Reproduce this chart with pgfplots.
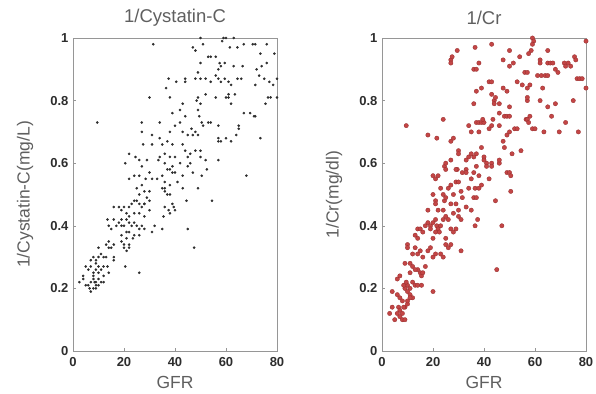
\documentclass[border=0pt]{standalone}
\usepackage{fontspec}
\setmainfont{Liberation Sans}
\usepackage{pgfplots}
\pgfplotsset{compat=1.18}
\definecolor{txt}{RGB}{95,95,95}
\definecolor{tick}{RGB}{45,45,45}
\definecolor{frame}{RGB}{150,150,150}
\definecolor{dotk}{RGB}{45,45,45}
\definecolor{dotr}{RGB}{195,70,70}
\definecolor{dotrd}{RGB}{150,45,45}
\pgfplotsset{
  myax/.style={
    scale only axis, width=204pt, height=313pt,
    xmin=0, xmax=80, ymin=0, ymax=1,
    xtick={0,20,40,60,80}, ytick={0,0.2,0.4,0.6,0.8,1},
    yticklabels={0,0.2,0.4,0.6,0.8,1},
    tick pos=left, tick align=inside, major tick length=3pt,
    tick style={frame, line width=0.5pt},
    axis line style={frame, line width=0.7pt},
    /pgf/number format/assume math mode=true,
    ticklabel style={font=\fontsize{13}{15}\selectfont\bfseries, text=tick},
    xticklabel style={yshift=-3pt},
    yticklabel style={xshift=-1pt},
    every axis x label/.style={at={(axis description cs:0.5,-0.099)}, anchor=center, font=\fontsize{17.5}{20}\selectfont, text=txt},
    every axis y label/.style={at={(axis description cs:-0.235,0.5)}, anchor=center, rotate=90, font=\fontsize{17.5}{20}\selectfont, text=txt},
    every axis title/.style={at={(axis description cs:0.5,1.064)}, anchor=center, font=\fontsize{18.5}{21}\selectfont, text=txt},
    clip=false,
  }
}
\begin{document}
\begin{tikzpicture}
\useasboundingbox (0,0) rectangle (596pt,393pt);
\begin{axis}[myax, at={(73pt,42pt)}, anchor=south west,
  title={1/Cystatin-C}, xlabel={GFR}, ylabel={1/Cystatin-C(mg/L)}]
\addplot[only marks, mark=*, mark size=1.1pt, mark options={fill=dotk, draw=dotk}] coordinates {
(31.5,0.98)(50,1.0)(51,0.98)(58.5,0.99)(59,1.0)(60,1.0)(63,1.0)(61.5,0.97)(64.5,0.97)(67,0.98)(70.5,0.98)(71.5,0.98)(76,0.98)(47,0.97)(48,0.96)
(53,0.94)(54,0.94)(56,0.94)(57.5,0.92)(58,0.91)(59.5,0.92)(50,0.92)(73.5,0.95)(76,0.92)(79,0.95)(72,0.90)(74,0.91)(63,0.91)(66.5,0.91)(57,0.90)
(49,0.89)(50,0.87)(52,0.87)(56,0.88)(57,0.87)(58,0.86)(59.5,0.87)(61,0.86)(62,0.85)(64.5,0.87)(66,0.87)(71.5,0.85)(73,0.88)(75,0.87)(77,0.86)(78.5,0.85)(80,0.87)(44,0.87)(44,0.86)(48,0.87)(40.5,0.86)(36.5,0.84)(37.5,0.87)(54,0.86)
(30,0.81)(38,0.81)(49,0.81)(50,0.79)(52,0.82)(56,0.81)(60,0.81)(61,0.82)(62,0.79)(63.5,0.82)(75.5,0.79)(76.5,0.81)(77.5,0.81)(80,0.81)(43,0.79)(48.5,0.80)(61,0.81)
(9.5,0.73)(39,0.76)(42,0.77)(44,0.75)(49,0.77)(49.5,0.75)(50.5,0.73)(51,0.72)(53,0.73)(54,0.73)(57,0.72)(65,0.72)(65,0.71)(67,0.76)(69.5,0.76)(71,0.75)(71.5,0.75)(40,0.72)(42,0.73)(34,0.73)(27,0.73)(46.5,0.71)(48,0.70)
(27,0.70)(31,0.69)(34,0.68)(37,0.67)(38,0.70)(43,0.70)(45,0.69)(47,0.69)(49,0.69)(57,0.68)(58,0.67)(57,0.67)(60,0.68)(62,0.67)(64,0.69)(73.5,0.68)(27.5,0.66)(31,0.66)(35,0.66)(39,0.66)(43,0.66)
(34,0.62)(36,0.63)(38,0.62)(40,0.62)(44,0.64)(45,0.62)(46,0.63)(48,0.64)(50,0.64)(50,0.62)(52,0.61)(57,0.61)(22,0.63)(24.5,0.62)(20.5,0.60)(26,0.61)(29,0.61)(33.5,0.61)(46,0.60)(52.5,0.58)(42,0.60)
(27,0.59)(28.5,0.55)(26,0.56)(30,0.57)(31,0.55)(33,0.55)(35,0.56)(36,0.54)(37,0.58)(38,0.58)(39,0.57)(40,0.57)(41,0.54)(43,0.56)(45,0.59)(47,0.57)(50.5,0.56)(22,0.55)(24,0.56)(68,0.56)(36,0.60)(39,0.59)
(25,0.52)(27,0.53)(26,0.50)(28,0.51)(29,0.49)(30,0.51)(30,0.48)(35,0.52)(36,0.52)(38,0.53)(43,0.52)(38,0.50)(49,0.52)(44.5,0.48)(54.5,0.48)(37,0.50)(36,0.51)(28,0.47)
(16,0.46)(18,0.46)(19,0.45)(20,0.46)(21,0.44)(22,0.46)(23,0.47)(24,0.48)(25,0.48)(26,0.47)(27,0.46)(28,0.47)(22,0.43)(24,0.44)(26,0.44)(28,0.43)(30,0.45)(36,0.46)(37.5,0.45)(38,0.44)(39,0.47)(35.5,0.43)(16,0.42)(19,0.42)(21,0.42)(13.5,0.42)(40,0.45)(39.5,0.46)
(14,0.40)(15,0.39)(17,0.40)(18,0.41)(19,0.40)(20,0.40)(22,0.41)(23,0.40)(24,0.41)(25,0.40)(26,0.39)(22,0.38)(24,0.37)(23.5,0.36)(19,0.37)(28,0.39)(27,0.40)(31,0.38)(32,0.40)(35,0.39)(45,0.39)(26,0.37)(21,0.38)
(13,0.34)(14,0.35)(15,0.33)(16,0.34)(14,0.33)(16,0.30)(19,0.35)(20,0.34)(20,0.33)(21,0.32)(22,0.33)(21,0.36)(10,0.33)(47.5,0.33)(12,0.30)(11,0.31)(10,0.30)(9,0.29)(8,0.30)(13,0.30)(22,0.34)
(7,0.29)(7,0.27)(9,0.28)(5,0.27)(6,0.26)(8,0.25)(9,0.26)(10,0.25)(11,0.26)(12,0.27)(13.5,0.27)(16,0.29)(10,0.27)(14,0.25)(12,0.24)(26,0.25)(20.5,0.27)(8,0.24)(4,0.24)
(2.5,0.22)(5,0.21)(6,0.21)(7,0.22)(8,0.23)(9,0.22)(9,0.21)(10,0.23)(11,0.22)(12,0.22)(7,0.19)(8,0.20)(9,0.20)(10,0.21)(6.5,0.20)(8.5,0.22)(4,0.23)
};
\end{axis}
\begin{axis}[myax, at={(382pt,42pt)}, anchor=south west,
  title={1/Cr}, xlabel={GFR}, ylabel={1/Cr(mg/dl)}]
\addplot[only marks, mark=*, mark size=2.2pt, mark options={fill=dotr, draw=dotrd, line width=0.3pt}] coordinates {
(59,1.0)(59.5,0.99)(59,0.98)(80,0.99)(43,0.98)(29.5,0.96)(36.5,0.97)(50,0.96)(65,0.96)(58.5,0.96)(27,0.93)(27.5,0.94)(27,0.92)(47.5,0.93)(50,0.91)(51.5,0.92)(54,0.94)(57.5,0.95)(62,0.93)(62,0.92)(65,0.92)(66,0.92)(67,0.92)(71.5,0.92)(72,0.91)(73,0.92)(74,0.91)(75.5,0.94)(76,0.93)(36,0.90)(37,0.90)(38,0.92)(68,0.90)(69,0.89)
(42,0.86)(43,0.86)(53,0.86)(55,0.85)(56,0.89)(57,0.89)(58,0.85)(61,0.88)(62.5,0.88)(64,0.88)(65,0.88)(76.5,0.87)(77.5,0.87)(78.5,0.87)(80,0.84)(37,0.83)(39,0.84)(43,0.82)(44,0.80)(47.5,0.84)(49,0.83)(57,0.84)(63,0.84)
(36,0.79)(44,0.79)(46,0.79)(50,0.78)(57,0.80)(62,0.80)(65,0.78)(68,0.79)(75,0.80)(57,0.81)(44.5,0.81)
(24,0.74)(34,0.72)(37,0.73)(38,0.73)(39,0.73)(40,0.73)(42,0.71)(43,0.72)(43.5,0.74)(46,0.72)(46,0.76)(48,0.75)(49,0.75)(50,0.75)(56.5,0.74)(57,0.74)(57.5,0.73)(58,0.75)(59,0.71)(60,0.71)(63.5,0.70)(66.5,0.75)(69.5,0.70)(72,0.73)(77,0.70)(9.5,0.72)(21.5,0.68)(18,0.69)(35,0.70)(38,0.70)(39.5,0.74)(52,0.71)(53,0.71)
(27,0.67)(28,0.68)(47.5,0.67)(48,0.65)(49,0.69)(50,0.70)(51,0.63)(54.5,0.64)(39,0.65)(37,0.63)(36,0.62)(34,0.62)(35,0.63)(30,0.64)(30,0.63)(40,0.62)(41,0.60)(43,0.60)(29.5,0.58)(33,0.58)
(20,0.56)(21,0.55)(22,0.56)(24.5,0.59)(25,0.58)(29,0.58)(31.5,0.57)(33,0.57)(35,0.55)(36,0.57)(37,0.59)(38,0.56)(39,0.53)(40,0.61)(41,0.59)(42,0.55)(43,0.59)(46,0.60)(46,0.61)(49,0.57)(50,0.57)(50.5,0.56)(50.5,0.51)(25,0.60)(27,0.61)(33,0.61)
(20,0.50)(21,0.48)(21,0.47)(23,0.52)(24,0.50)(24.5,0.48)(25,0.49)(26,0.52)(27,0.53)(28,0.50)(29,0.47)(29,0.54)(30,0.54)(31,0.51)(31.5,0.49)(33,0.46)(35,0.45)(36,0.49)(36.5,0.52)(37,0.49)(38,0.52)(27,0.47)(44.5,0.48)(22,0.45)(24,0.45)(18,0.45)(30,0.45)(34,0.52)
(17,0.40)(18,0.41)(19,0.40)(19,0.39)(20,0.41)(21,0.42)(21.5,0.40)(22,0.39)(22.5,0.38)(23,0.40)(24,0.42)(25,0.43)(26,0.42)(27,0.39)(28,0.38)(29,0.39)(30,0.43)(31,0.42)(36.5,0.40)(37.5,0.42)(47,0.40)(14,0.39)(15,0.39)(16,0.38)(13,0.37)(14,0.36)(20,0.36)(21,0.38)(28,0.44)(25,0.36)
(10,0.34)(10,0.33)(12,0.31)(13,0.33)(14,0.31)(15,0.32)(16,0.30)(18,0.32)(19,0.33)(20,0.30)(21,0.31)(23,0.31)(24,0.30)(25,0.34)(26,0.33)(27,0.34)(31,0.32)(17,0.27)(45,0.26)(15,0.25)(15.5,0.24)(16,0.25)(14,0.26)
(9,0.28)(11,0.28)(12,0.27)(13,0.26)(12,0.22)(13,0.21)(14,0.21)(15.5,0.21)(10,0.21)(11,0.20)(9,0.20)(10,0.19)(11,0.18)(12,0.17)(20,0.19)(6,0.23)(7,0.24)(8.5,0.21)(9.5,0.22)(11,0.25)
(4,0.19)(6,0.18)(7,0.17)(8,0.16)(9,0.14)(10,0.15)(11,0.17)(6.5,0.14)(7,0.13)(8,0.12)(6,0.12)(7,0.11)(8,0.10)(9,0.10)(5,0.10)(3,0.12)(4,0.14)(10,0.16)(8.5,0.14)
};
\end{axis}
\end{tikzpicture}
\end{document}
